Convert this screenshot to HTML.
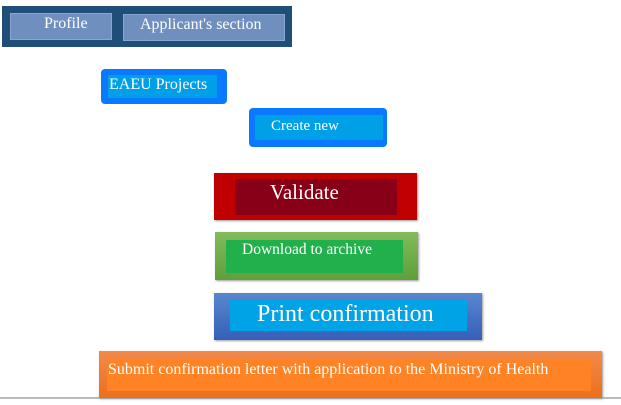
<!DOCTYPE html>
<html><head><style>
body{margin:0;width:621px;height:405px;background:#fff;position:relative;overflow:hidden;font-family:"Liberation Serif","Times New Roman","DejaVu Serif",serif;color:#fff}
div{position:absolute;box-sizing:border-box;white-space:nowrap;font-family:"Liberation Serif","Times New Roman","DejaVu Serif",serif}
</style></head><body>
<div style="left:2px;top:6px;width:290px;height:41px;background:#1f4e79"></div>
<div style="left:10px;top:13px;width:102px;height:27px;background:#6f8fbf;border:1px solid #8aa6d0;font-size:16px;padding:1px 0 0 33px">Profile</div>
<div style="left:123px;top:14px;width:162px;height:27px;background:#6f8fbf;border:1px solid #8aa6d0;font-size:16px;padding:1px 0 0 16px">Applicant's section</div>

<div style="left:101px;top:69px;width:126px;height:35px;background:#0a78ff;border-radius:4px"></div>
<div style="left:108px;top:75px;width:109px;height:23px;background:#00a0e8;font-size:16px;padding:1px 0 0 1px">EAEU Projects</div>

<div style="left:249px;top:108px;width:138px;height:39px;background:#0a78ff;border-radius:4px"></div>
<div style="left:255px;top:115px;width:128px;height:25px;background:#00a0e8;font-size:15px;padding:3px 0 0 16px">Create new</div>

<div style="left:214px;top:173px;width:203px;height:47px;background:#c00000;box-shadow:1px 1px 2px #999"></div>
<div style="left:235px;top:179px;width:162px;height:36px;background:#880018;font-size:21px;padding:1px 0 0 35px">Validate</div>

<div style="left:215px;top:232px;width:203px;height:48px;background:linear-gradient(#82bb5c,#5fa03a);box-shadow:1px 1px 2px #999"></div>
<div style="left:226px;top:240px;width:177px;height:33px;background:#22b04c;font-size:15.5px;padding:1px 0 0 16px">Download to archive</div>

<div style="left:214px;top:293px;width:268px;height:47px;background:linear-gradient(#5a86cf,#3560b8);box-shadow:1px 1px 2px #999"></div>
<div style="left:230px;top:300px;width:237px;height:31px;background:#00a3e6;font-size:24px;line-height:28px;padding:0 0 0 27px">Print confirmation</div>

<div style="left:0;top:397px;width:621px;height:2px;background:#bbb"></div>
<div style="left:99px;top:351px;width:503px;height:47px;background:linear-gradient(#f38a4a,#ec6f1c);box-shadow:1px 1px 2px #999"></div>
<div style="left:107px;top:360px;width:484px;height:31px;background:#ff8225;font-size:16px;padding:1px 0 0 1px">Submit confirmation letter with application to the Ministry of Health</div>
</body></html>
